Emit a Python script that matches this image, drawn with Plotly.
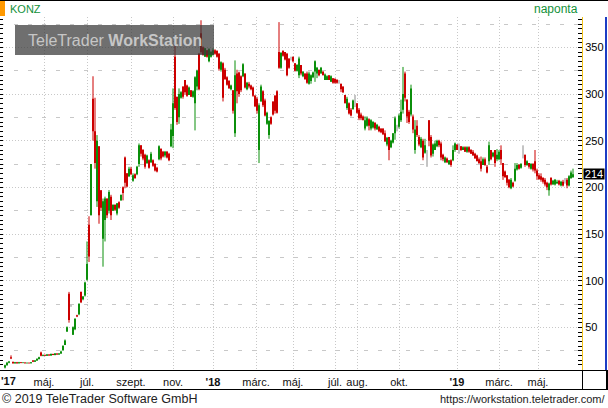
import plotly.graph_objects as go

# ---------------- data (daily candles, one per two trading sessions) ----------------
first_session = 5          # trading-session number of the first candle
session_step = 2           # sessions between plotted candles

open_ = [
    # Mar-Jun 2017
    7, 9.5, 12, 18, 13, 11.5, 12.5, 11.5, 12.5, 11.8, 12.3, 11.5, 12, 11.5, 14.5,
    13.2, 14.5, 16, 23, 19.5, 20.5, 19.5, 21, 19.8, 21.5, 20.5, 22, 20.8, 22, 25.5,
    31, 45.5, 86, 73, 42, 48, 63, 64, 88, 80, 84, 101,
    # Jul-Aug 2017
    160, 170, 295, 260, 185, 244, 197, 145, 165, 188, 175, 190, 175, 181, 172, 184, 186, 200,
    # Aug-Nov 2017
    232, 215, 212, 220, 207, 214, 214, 225, 245, 240, 235, 226, 229, 227, 229, 225, 221, 230,
    241, 238, 234, 238, 236, 244, 255, 340, 297, 275,
    # Nov 2017 - Jan 2018
    296, 308, 315, 309, 299, 304, 297, 290, 308, 343, 365, 350, 340, 347, 335, 340, 342, 347,
    346, 343, 326, 333, 326, 318, 314, 305, 304,
    # Feb - May 2018
    258, 322, 323, 319, 319, 322, 305, 311, 309, 307, 298, 295, 240, 292, 303, 293, 268, 256,
    275, 292, 298, 303, 345, 328, 346, 345, 343, 338, 338, 340, 333, 325, 320,
    # May 2018 - Jun 2019
    331, 319, 322, 322, 311, 314, 318, 324, 322, 326,
    322, 324, 315, 315, 320, 313, 317, 316, 315, 313,
    311, 308, 299, 285, 290, 283, 284, 292, 290, 283,
    278, 276, 263, 266, 273, 263, 264, 269, 262, 265,
    263, 263, 258, 246, 254, 243, 248, 258, 265, 265,
    272, 283, 322, 294, 281, 278, 276, 240, 266, 254,
    243, 250, 237, 230, 272, 254, 236, 240, 244, 250,
    247, 235, 227, 231, 225, 229, 229, 240, 246, 244,
    244, 240, 243, 238, 243, 240, 238, 236, 234, 230,
    228, 224, 230, 222, 228, 240, 233, 240, 230, 230,
    240, 226, 217, 213, 208, 199, 205, 207, 219, 224,
    221, 240, 235, 224, 226, 220, 225, 228, 218, 213,
    212, 210, 208, 205, 197, 210, 203, 203, 204, 207,
    202, 206, 205, 208, 202, 210, 211,
]

close = [
    9.5, 12, 13.5, 16.5, 11.5, 12.5, 11.5, 12.5, 11.8, 12.3, 11.5, 12, 11.5, 12.5, 13.2,
    14.5, 16, 18, 19.5, 20.5, 19.5, 21, 19.8, 21.5, 20.5, 22, 20.8, 22, 24, 30,
    36, 50, 58, 73, 50, 59, 61.5, 75, 77, 83, 98, 118,
    126, 225, 260, 226, 250, 170, 178, 185, 188, 170, 195, 170, 181, 176, 183, 178, 192, 194,
    205, 201, 220, 214, 213, 210, 222, 245, 236, 231, 222, 234, 221, 236, 223, 218, 217, 244,
    231, 233, 238, 232, 229, 262, 290, 285, 270, 300,
    302, 297, 302, 298, 307, 297, 303, 318, 325, 305, 345, 342, 349, 340, 348, 345, 347, 343,
    340, 327, 334, 296, 316, 310, 306, 309, 282,
    320, 303, 300, 304, 332, 307, 312, 308, 305, 298, 287, 282, 288, 308, 288, 277, 280, 271,
    268, 278, 282, 280, 328, 344, 341, 337, 320, 328, 338, 335, 325, 331, 338,
    322, 324, 316, 312, 322, 320, 323, 335, 328, 320,
    328, 320, 321, 319, 315, 319, 312, 312, 312, 313,
    305, 302, 290, 295, 279, 277, 293, 292, 280, 274,
    274, 272, 272, 274, 266, 272, 270, 263, 267, 260,
    259, 257, 249, 253, 240, 250, 258, 274, 265, 277,
    281, 300, 296, 276, 270, 306, 262, 262, 256, 246,
    252, 232, 245, 230, 250, 234, 246, 247, 250, 245,
    232, 230, 232, 227, 229, 224, 240, 247, 240, 244,
    240, 243, 238, 243, 238, 236, 234, 231, 228, 226,
    220, 230, 224, 216, 245, 230, 237, 226, 235, 238,
    230, 212, 211, 205, 200, 208, 201, 220, 224, 220,
    225, 240, 224, 228, 222, 225, 219, 218, 212, 209,
    208, 206, 203, 200, 204, 203, 207, 208, 206, 203,
    206, 202, 205, 202, 212, 216, 214,
]

high = [
    10, 13, 14, 20, 13.5, 13, 13, 13, 12.8, 12.6, 12.5, 12.3, 12.3, 12.8, 15,
    15, 17, 18.5, 24, 21, 21, 21.5, 21.2, 22, 21.8, 22.5, 22.2, 22.5, 25, 31,
    37, 51, 88, 74, 51, 60, 63.5, 76, 88.5, 83.5, 99, 142,
    169, 225, 319, 296, 256, 244, 197, 188, 190, 188, 197, 192, 182, 182, 183, 185, 192, 201,
    233, 215, 222, 222, 215, 215, 223, 247, 245, 241, 236, 235, 230, 238, 230, 226, 222, 245,
    242, 239, 239, 239, 237, 268, 306, 352, 297, 306,
    303, 308, 315, 310, 308, 304, 304, 319, 326, 344, 379, 351, 349, 347, 349, 346, 349, 348,
    347, 344, 335, 334, 328, 319, 315, 310, 304,
    336, 326, 324, 320, 333, 322, 313, 313, 310, 308, 299, 297, 290, 310, 304, 295, 281, 272,
    276, 292, 299, 304, 377, 345, 347, 345, 344, 338, 340, 340, 333, 332, 340,
    331, 324, 322, 324, 324, 321, 324, 336, 329, 326,
    329, 324, 322, 320, 320, 320, 317, 317, 316, 315,
    311, 308, 299, 297, 291, 285, 294, 299, 290, 285,
    280, 277, 276, 276, 274, 273, 271, 270, 268, 266,
    263, 263, 261, 254, 254, 251, 258, 276, 267, 279,
    294, 329, 324, 294, 283, 310, 278, 272, 272, 256,
    254, 252, 252, 240, 272, 256, 247, 250, 251, 251,
    249, 236, 233, 232, 229, 230, 245, 248, 246, 247,
    244, 244, 244, 244, 244, 241, 240, 237, 235, 232,
    233, 232, 232, 224, 249, 240, 238, 240, 241, 240,
    245, 226, 218, 213, 209, 210, 206, 226, 226, 225,
    226, 245, 235, 229, 226, 226, 226, 240, 220, 215,
    215, 211, 210, 206, 205, 211, 208, 209, 208, 208,
    207, 208, 210, 210, 213, 218, 220,
]

low = [
    6, 9, 11.5, 16, 11, 11, 11, 11.2, 11.5, 11.5, 11.2, 11.3, 11.2, 11.3, 12.8,
    13, 14, 15.5, 19, 19, 19.2, 19.3, 19.5, 19.5, 20.2, 20, 20.5, 20.5, 21.5, 25,
    31, 45, 55, 72, 41.8, 47, 61, 63, 76, 79, 83, 100,
    120, 170, 250, 220, 179, 161, 175, 115, 142, 167, 172, 165, 175, 175, 170, 177, 186, 186,
    199, 200, 211, 213, 206, 209, 213, 222, 233, 229, 220, 225, 220, 226, 222, 217, 216, 229,
    229, 232, 232, 231, 228, 243, 242, 283, 267, 268,
    295, 295, 299, 297, 299, 297, 296, 261, 304, 304, 343, 341, 340, 339, 334, 339, 341, 342,
    339, 325, 324, 292, 315, 309, 306, 304, 279,
    254, 290, 297, 302, 318, 306, 304, 306, 304, 297, 286, 279, 226, 292, 286, 276, 267, 252,
    267, 277, 279, 279, 327, 327, 340, 336, 319, 327, 336, 334, 324, 324, 317,
    320, 318, 315, 311, 310, 311, 317, 313, 317, 319,
    322, 320, 315, 315, 315, 313, 311, 311, 311, 311,
    302, 301, 290, 283, 278, 276, 283, 286, 279, 272,
    272, 272, 261, 265, 261, 261, 263, 261, 262, 259,
    258, 256, 249, 244, 229, 242, 247, 251, 260, 263,
    270, 279, 292, 269, 268, 276, 258, 236, 254, 244,
    242, 229, 236, 222, 244, 232, 233, 240, 243, 243,
    229, 228, 226, 226, 224, 222, 228, 238, 240, 236,
    239, 240, 238, 237, 237, 236, 234, 231, 228, 225,
    217, 224, 223, 215, 224, 229, 232, 222, 228, 229,
    224, 208, 210, 202, 199, 198, 200, 206, 218, 219,
    220, 231, 222, 223, 220, 219, 217, 215, 208, 208,
    206, 204, 201, 197, 191, 202, 203, 202, 204, 202,
    201, 201, 204, 199, 201, 209, 210,
]

month_sessions = [44, 87, 131, 173, 213, 256, 293, 335, 357, 399, 457, 499, 538]
month_labels = ["máj.", "júl.", "szept.", "nov.", "<b>'18</b>", "márc.", "máj.",
                "júl.", "aug.", "okt.", "<b>'19</b>", "márc.", "máj."]
first_year_label = "<b>'17</b>"
first_year_session = 8.5

symbol = "KONZ"
interval_label = "naponta"
footer_left = "© 2019 TeleTrader Software GmbH"
footer_right = "https://workstation.teletrader.com/"

assert len(open_) == len(close) == len(high) == len(low), (len(open_), len(close), len(high), len(low))

# ---------------- figure ----------------
W, H = 608, 408
ML, MR, MT, MB = 0, 26, 17, 38
PW, PH = W - ML - MR, H - MT - MB
Y_RANGE = [4.3, 382.5]
X_RANGE = [0, PW]


def px(xp):
    return (xp - ML) / PW


def py(yp):
    return (H - MB - yp) / PH


sessions = [first_session + session_step * i for i in range(len(close))]

GREEN, RED, GRAY = "#0b8f0b", "#cc0000", "#8a8a8a"
groups = {GREEN: ([], [], [], []), RED: ([], [], [], []), GRAY: ([], [], [], [])}
for s, o, h, l, c in zip(sessions, open_, high, low, close):
    col = GREEN if c > o else (RED if c < o else GRAY)
    wx, wy, bx, by = groups[col]
    wx += [s, s, None]
    wy += [l, h, None]
    bx += [s, s, None]
    by += [o, c, None]

fig = go.Figure()
for col, (wx, wy, bx, by) in groups.items():
    fig.add_trace(go.Scatter(x=wx, y=wy, mode="lines", line=dict(color=col, width=1),
                             hoverinfo="skip", showlegend=False))
    fig.add_trace(go.Scatter(x=bx, y=by, mode="lines", line=dict(color=col, width=2),
                             hoverinfo="skip", showlegend=False))
# helper trace so the left (minor grid / tick) axis is drawn
fig.add_trace(go.Scatter(x=[None], y=[None], yaxis="y2", showlegend=False, hoverinfo="skip"))

GRID = "#c8c8c8"
AX_FONT = dict(family="Liberation Sans, Arial, sans-serif", size=11, color="#111111")

fig.update_layout(
    width=W, height=H,
    margin=dict(l=ML, r=MR, t=MT, b=MB, pad=0),
    paper_bgcolor="white", plot_bgcolor="white",
    showlegend=False,
    xaxis=dict(range=X_RANGE, tickmode="array", tickvals=month_sessions, ticktext=month_labels,
               showgrid=True, gridcolor=GRID, griddash="1px,2px", gridwidth=1,
               ticks="", zeroline=False, showline=True, linecolor="black", linewidth=1,
               tickfont=AX_FONT, ticklabelstandoff=2, fixedrange=True),
    yaxis=dict(range=Y_RANGE, side="right", tick0=0, dtick=50, ticks="inside", ticklen=4,
               tickcolor="black", showline=True, linecolor="#f2c31b", linewidth=1,
               showgrid=True, gridcolor=GRID, griddash="1px,2px", gridwidth=1,
               zeroline=False, tickfont=dict(family="Liberation Sans, Arial, sans-serif", size=11, color="#000000"),
               minor=dict(dtick=5, ticks="inside", ticklen=4, tickcolor="black", showgrid=False),
               fixedrange=True),
    yaxis2=dict(range=Y_RANGE, overlaying="y", side="left", anchor="x", tick0=25, dtick=50,
                ticks="inside", ticklen=3, tickcolor="black", showticklabels=False,
                showgrid=True, gridcolor=GRID, griddash="4px,10px", gridwidth=1,
                zeroline=False, showline=False,
                minor=dict(dtick=5, ticks="inside", ticklen=3, tickcolor="black", showgrid=False),
                fixedrange=True),
)

shapes = [
    # top border
    dict(type="line", xref="paper", yref="paper", x0=px(0), x1=px(W), y0=py(0.5), y1=py(0.5),
         line=dict(color="black", width=1)),
    # symbol marker
    dict(type="rect", xref="paper", yref="paper", x0=px(0), x1=px(5), y0=py(16), y1=py(1),
         fillcolor="#ff9900", line=dict(width=0)),
    # right blue edge
    dict(type="line", xref="paper", yref="paper", x0=px(606), x1=px(606), y0=py(17), y1=py(370),
         line=dict(color="#1c3cc4", width=2)),
    # x-axis band
    dict(type="line", xref="paper", yref="paper", x0=px(582), x1=px(W), y0=py(370.5), y1=py(370.5),
         line=dict(color="black", width=1)),
    dict(type="line", xref="paper", yref="paper", x0=px(0), x1=px(W), y0=py(389.5), y1=py(389.5),
         line=dict(color="black", width=1)),
    dict(type="line", xref="paper", yref="paper", x0=px(582.5), x1=px(582.5), y0=py(370), y1=py(389.5),
         line=dict(color="black", width=1)),
    dict(type="line", xref="paper", yref="paper", x0=px(607), x1=px(607), y0=py(370), y1=py(389.5),
         line=dict(color="black", width=2)),
    # watermark box
    dict(type="rect", xref="paper", yref="paper", x0=px(15), x1=px(214), y0=py(55), y1=py(25),
         fillcolor="rgba(55,55,55,0.72)", line=dict(width=0), layer="above"),
]
fig.update_layout(shapes=shapes)

ann_font = "Liberation Sans, Arial, sans-serif"
annotations = [
    dict(xref="paper", yref="paper", x=px(8), y=py(9), xanchor="left", yanchor="middle",
         text=symbol, showarrow=False, font=dict(family=ann_font, size=11, color="#12913a")),
    dict(xref="paper", yref="paper", x=px(580), y=py(9), xanchor="right", yanchor="middle",
         text=interval_label, showarrow=False, font=dict(family=ann_font, size=12, color="#12913a")),
    dict(xref="paper", yref="paper", x=px(114.5), y=py(40), xanchor="center", yanchor="middle",
         text="TeleTrader <b>WorkStation</b>", showarrow=False,
         font=dict(family=ann_font, size=16, color="#c6c6c6")),
    dict(xref="x", yref="paper", x=first_year_session, y=py(381), xanchor="center", yanchor="middle",
         text=first_year_label, showarrow=False, font=AX_FONT),
    dict(xref="paper", yref="y", x=px(583), y=close[-1], xanchor="left", yanchor="middle",
         text=f"{close[-1]:.0f}", showarrow=False, bgcolor="black", width=20, height=10,
         borderpad=0, font=dict(family=ann_font, size=11, color="white")),
    dict(xref="paper", yref="paper", x=px(0), y=py(399), xanchor="left", yanchor="middle",
         text=footer_left, showarrow=False, font=dict(family=ann_font, size=12.5, color="#222222")),
    dict(xref="paper", yref="paper", x=px(607), y=py(399), xanchor="right", yanchor="middle",
         text=footer_right, showarrow=False, font=dict(family=ann_font, size=11, color="#222222")),
]
fig.update_layout(annotations=annotations)

fig.write_html("out.html",
               config={"displayModeBar": False, "staticPlot": True},
               post_script="document.body.style.margin='0px';document.body.style.padding='0px';")
